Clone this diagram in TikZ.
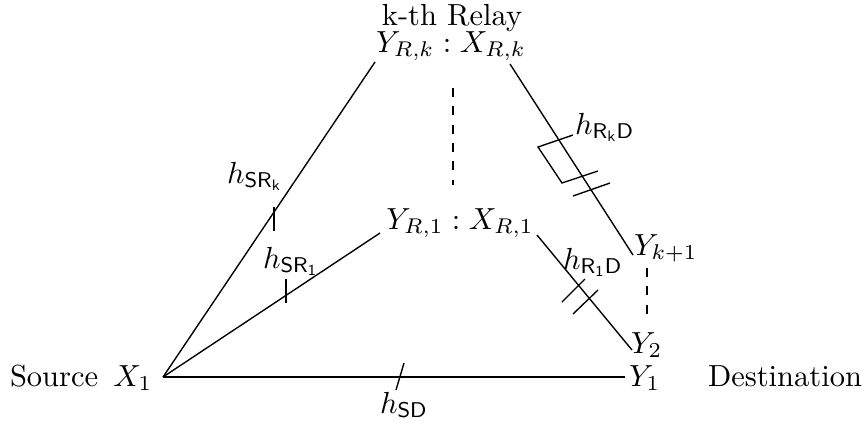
\documentclass[tikz,border=0pt]{standalone}
\begin{document}
\begin{tikzpicture}[x=0.3279pt,y=-0.3279pt,
  lbl/.style={inner sep=0pt,outer sep=0pt},
  link/.style={line width=0.45pt},
  tick/.style={line width=0.45pt},
  dots/.style={dashed,line width=0.45pt}]
\useasboundingbox (0,0) rectangle (868,425);
% texts
\node[lbl,anchor=base] (kth) at (452,25) {k-th Relay};
\node[lbl,anchor=base] (rk) at (451,52) {$Y_{R,k}:X_{R,k}$};
\node[lbl,anchor=base] (r1) at (460,229) {$Y_{R,1}:X_{R,1}$};
\node[lbl,anchor=base west] (src) at (10,386) {Source\ \,$X_1$};
\node[lbl,anchor=base west] (y1) at (629,386) {$Y_1$};
\node[lbl,anchor=base west] (dst) at (708,386) {Destination};
\node[lbl,anchor=base west] (yk1) at (634,255) {$Y_{k+1}$};
\node[lbl,anchor=base west] (y2) at (631,353) {$Y_2$};
\node[lbl,anchor=base west] (hsd) at (380,413) {$h_{\mathsf{SD}}$};
\node[lbl,anchor=base west] (hsrk) at (227,183) {$h_{\mathsf{SR}_{\mathsf{k}}}$};
\node[lbl,anchor=base west] (hsr1) at (263,268) {$h_{\mathsf{SR}_{\mathsf{1}}}$};
\node[lbl,anchor=base west] (hrkd) at (575,134) {$h_{\mathsf{R}_{\mathsf{k}}\mathsf{D}}$};
\node[lbl,anchor=base west] (hr1d) at (563,269) {$h_{\mathsf{R}_{\mathsf{1}}\mathsf{D}}$};
% endpoints
\coordinate (S) at (163,377);
\coordinate (D) at (625,377);
\coordinate (RkL) at (375,62);
\coordinate (RkR) at (510,64);
\coordinate (Ek) at (633,255);
\coordinate (R1L) at (380,233);
\coordinate (R1R) at (537,235);
\coordinate (E2) at (632,350);
% links
\draw[link] (S) -- (D);
\draw[link] (S) -- (RkL);
\draw[link] (S) -- (R1L);
\draw[link] (RkR) -- (Ek);
\draw[link] (R1R) -- (E2);
% dashed
\coordinate (dA) at (453,88); \coordinate (dB) at (453,185);
\draw[dots] (dA) -- (dB);
\coordinate (dC) at (647,268); \coordinate (dD) at (647,316);
\draw[dots] (dC) -- (dD);
% ticks
\coordinate (t1a) at (396,390); \coordinate (t1b) at (404,363);
\draw[tick] (t1a) -- (t1b);
\coordinate (t2a) at (274,207); \coordinate (t2b) at (274,231);
\draw[tick] (t2a) -- (t2b);
\coordinate (t3a) at (286,279); \coordinate (t3b) at (286,303);
\draw[tick] (t3a) -- (t3b);
\coordinate (b1) at (573,135); \coordinate (b2) at (538,147);
\coordinate (b3) at (562,183); \coordinate (b4) at (598,171);
\draw[tick] (b1) -- (b2) -- (b3) -- (b4);
\coordinate (b5) at (573,196); \coordinate (b6) at (610,183);
\draw[tick] (b5) -- (b6);
\coordinate (c1) at (562,302); \coordinate (c2) at (585,279);
\draw[tick] (c1) -- (c2);
\coordinate (c3) at (573,314); \coordinate (c4) at (598,290);
\draw[tick] (c3) -- (c4);
\end{tikzpicture}
\end{document}
